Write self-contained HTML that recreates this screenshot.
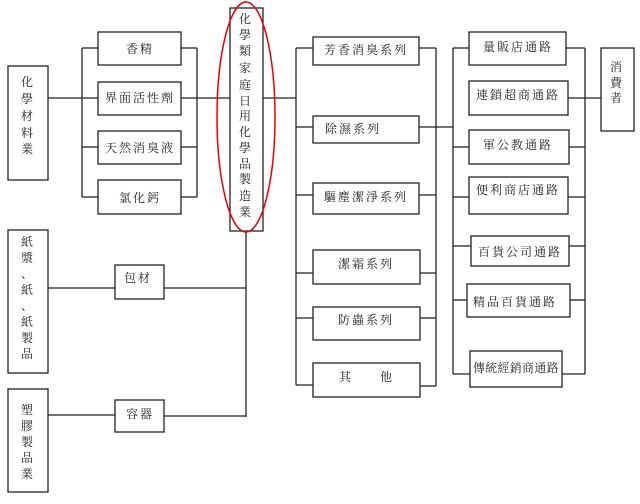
<!DOCTYPE html>
<html><head><meta charset="utf-8"><style>
html,body{margin:0;padding:0;background:#fff;}
svg{display:block;}
text{font-family:"Liberation Serif","Noto Serif CJK SC","Noto Sans CJK TC",serif;font-size:12px;fill:#222;text-anchor:middle;dominant-baseline:central;letter-spacing:2px;}
</style></head><body>
<svg width="640" height="504" viewBox="0 0 640 504" xmlns="http://www.w3.org/2000/svg">
<g fill="none" stroke="#222" stroke-width="1.3">
<rect x="8" y="66" width="40" height="114"/>
<line x1="48" y1="98" x2="98" y2="98"/>
<line x1="82" y1="48" x2="82" y2="197"/>
<line x1="82" y1="48" x2="98" y2="48"/>
<line x1="82" y1="147" x2="98" y2="147"/>
<line x1="82" y1="197" x2="98" y2="197"/>
<rect x="98" y="32" width="83" height="33"/>
<rect x="98" y="82" width="83" height="33"/>
<rect x="98" y="131" width="83" height="33"/>
<rect x="98" y="180" width="83" height="34"/>
<line x1="181" y1="48" x2="197" y2="48"/>
<line x1="181" y1="147" x2="197" y2="147"/>
<line x1="181" y1="197" x2="197" y2="197"/>
<line x1="197" y1="48" x2="197" y2="197"/>
<line x1="181" y1="98" x2="230" y2="98"/>
<rect x="230" y="8" width="33" height="223"/>
<line x1="263" y1="98" x2="296" y2="98"/>
<line x1="246" y1="231" x2="246" y2="417"/>
<rect x="8" y="230" width="40" height="143"/>
<rect x="8" y="389" width="40" height="103"/>
<rect x="115" y="265" width="49" height="34"/>
<rect x="115" y="400" width="49" height="32"/>
<line x1="48" y1="288" x2="115" y2="288"/>
<line x1="164" y1="288" x2="246" y2="288"/>
<line x1="48" y1="415" x2="115" y2="415"/>
<line x1="164" y1="416" x2="246" y2="416"/>
<line x1="296" y1="48" x2="296" y2="385"/>
<line x1="436" y1="48" x2="436" y2="386"/>
<rect x="313" y="37" width="106" height="28"/>
<rect x="313" y="116" width="106" height="27"/>
<rect x="313" y="183" width="106" height="31"/>
<rect x="313" y="250" width="107" height="34"/>
<rect x="313" y="307" width="107" height="33"/>
<rect x="313" y="363" width="107" height="34"/>
<line x1="296" y1="48" x2="313" y2="48"/><line x1="419" y1="48" x2="436" y2="48"/>
<line x1="296" y1="127" x2="313" y2="127"/><line x1="419" y1="127" x2="453" y2="127"/>
<line x1="296" y1="195" x2="313" y2="195"/><line x1="419" y1="195" x2="436" y2="195"/>
<line x1="296" y1="273" x2="313" y2="273"/><line x1="420" y1="273" x2="436" y2="273"/>
<line x1="296" y1="318" x2="313" y2="318"/><line x1="420" y1="318" x2="436" y2="318"/>
<line x1="296" y1="385" x2="313" y2="385"/><line x1="420" y1="386" x2="436" y2="386"/>
<line x1="453" y1="48" x2="453" y2="374"/>
<line x1="585" y1="48" x2="585" y2="374"/>
<rect x="469" y="32" width="97" height="33"/>
<rect x="469" y="81" width="99" height="34"/>
<rect x="469" y="130" width="100" height="34"/>
<rect x="469" y="177" width="99" height="37"/>
<rect x="471" y="236" width="98" height="30"/>
<rect x="467" y="284" width="103" height="33"/>
<rect x="470" y="351" width="92" height="36"/>
<line x1="453" y1="48" x2="469" y2="48"/><line x1="566" y1="48" x2="585" y2="48"/>
<line x1="568" y1="98" x2="601" y2="98"/>
<line x1="453" y1="147" x2="469" y2="147"/><line x1="569" y1="147" x2="585" y2="147"/>
<line x1="453" y1="197" x2="469" y2="197"/><line x1="568" y1="197" x2="585" y2="197"/>
<line x1="453" y1="246" x2="471" y2="246"/><line x1="569" y1="246" x2="585" y2="246"/>
<line x1="453" y1="300" x2="467" y2="300"/><line x1="570" y1="300" x2="585" y2="300"/>
<line x1="453" y1="374" x2="470" y2="374"/><line x1="562" y1="374" x2="585" y2="374"/>
<rect x="601" y="48" width="33" height="83"/>
</g>
<ellipse cx="246" cy="117" rx="29" ry="115" fill="none" stroke="#e00" stroke-width="1.5"/>
<g>
<text x="28" y="82">化</text><text x="28" y="99">學</text><text x="28" y="116">材</text><text x="28" y="133">料</text><text x="28" y="149">業</text>
<text x="140" y="49">香精</text>
<text x="140" y="98">界面活性劑</text>
<text x="140" y="148">天然消臭液</text>
<text x="140" y="198">氯化鈣</text>
<text x="246" y="19">化</text><text x="246" y="35">學</text><text x="246" y="51">類</text><text x="246" y="68">家</text><text x="246" y="85">庭</text><text x="246" y="101">日</text><text x="246" y="116">用</text><text x="246" y="132">化</text><text x="246" y="148">學</text><text x="246" y="164">品</text><text x="246" y="179">製</text><text x="246" y="196">造</text><text x="246" y="212">業</text>
<text x="28" y="242">紙</text><text x="28" y="258">漿</text><text x="28" y="274">、</text><text x="28" y="290">紙</text><text x="28" y="306">、</text><text x="28" y="322">紙</text><text x="28" y="338">製</text><text x="28" y="354">品</text>
<text x="28" y="410">塑</text><text x="28" y="426">膠</text><text x="28" y="442">製</text><text x="28" y="458">品</text><text x="28" y="474">業</text>
<text x="138" y="278">包材</text>
<text x="140" y="414">容器</text>
<text x="366" y="50">芳香消臭系列</text>
<text x="353" y="129">除濕系列</text>
<text x="366" y="197">驅塵潔淨系列</text>
<text x="366" y="264">潔霜系列</text>
<text x="366" y="320">防蟲系列</text>
<text x="346" y="377">其</text><text x="387" y="377">他</text>
<text x="518" y="47">量販店通路</text>
<text x="518" y="95">連鎖超商通路</text>
<text x="518" y="145">軍公教通路</text>
<text x="518" y="190">便利商店通路</text>
<text x="520" y="252">百貨公司通路</text>
<text x="515" y="302">精品百貨通路</text>
<text x="516" y="368" style="letter-spacing:0.5px" textLength="86" lengthAdjust="spacingAndGlyphs">傳統經銷商通路</text>
<text x="617" y="67">消</text><text x="617" y="83">費</text><text x="617" y="98">者</text>
</g>
</svg>
</body></html>
